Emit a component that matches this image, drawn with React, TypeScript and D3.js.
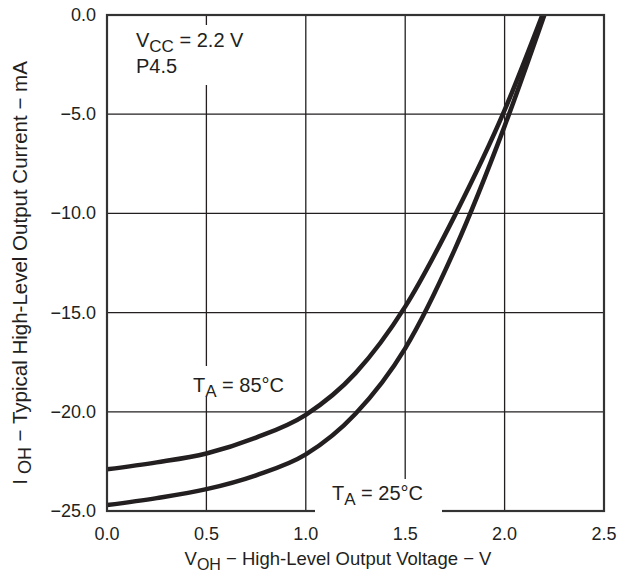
import * as React from 'react';
import * as d3 from 'd3';

// V_OH in volts, I_OH in mA
const voltage = [0, 0.25, 0.5, 0.75, 1.0, 1.25, 1.5, 1.75, 2.0];
const current85 = [-22.9, -22.55, -22.1, -21.3, -20.15, -18.05, -14.7, -10.1, -4.8];
const current25 = [-24.7, -24.35, -23.9, -23.2, -22.15, -20.1, -16.8, -11.8, -5.6];
// both curves reach 0 mA here
const endVoltage85 = 2.19;
const endVoltage25 = 2.2;

const xTicks = [0, 0.5, 1.0, 1.5, 2.0, 2.5];
const yTicks = [0, -5, -10, -15, -20, -25];

const W = 618;
const H = 576;
const margin = {left: 107, right: 14, top: 15, bottom: 65};
const font = 'Liberation Sans, Arial, sans-serif';
const ink = '#231f20';

export default function App() {
  const x = d3.scaleLinear().domain([0, 2.5]).range([margin.left, W - margin.right]);
  const y = d3.scaleLinear().domain([0, -25]).range([margin.top, H - margin.bottom]);

  const line = d3.line<[number, number]>()
    .x(d => x(d[0]))
    .y(d => y(d[1]))
    .curve(d3.curveMonotoneX);

  const s85 = voltage.map((v, i) => [v, current85[i]] as [number, number]).concat([[endVoltage85, 0]]);
  const s25 = voltage.map((v, i) => [v, current25[i]] as [number, number]).concat([[endVoltage25, 0]]);

  const [x0, x1] = x.range();
  const [y0, y1] = y.range();

  return (
    <svg width={W} height={H} style={{position: 'absolute', left: 0, top: 0, background: '#fff'}}
      fontFamily={font}>
      {/* grid */}
      {xTicks.slice(1, -1).map(t => (
        <line key={'gx' + t} x1={x(t)} x2={x(t)} y1={y0} y2={y1} stroke={ink} strokeWidth={1.3}/>
      ))}
      {yTicks.slice(1, -1).map(t => (
        <line key={'gy' + t} x1={x0} x2={x1} y1={y(t)} y2={y(t)} stroke={ink} strokeWidth={1.3}/>
      ))}

      {/* curves */}
      <path d={line(s85) || ''} fill="none" stroke={ink} strokeWidth={4.5}/>
      <path d={line(s25) || ''} fill="none" stroke={ink} strokeWidth={4.5}/>

      {/* frame */}
      <rect x={x0} y={y0} width={x1 - x0} height={y1 - y0} fill="none" stroke="#333" strokeWidth={2.2}/>

      {/* annotations with white backing */}
      <rect x={118} y={25} width={135} height={60} fill="#fff"/>
      <text x={136} y={47} fontSize={20} fill={ink}>
        V<tspan fontSize={17} dy={5}>CC</tspan><tspan dy={-5}> = 2.2 V</tspan>
      </text>
      <text x={136} y={73} fontSize={20} fill={ink}>P4.5</text>

      <rect x={186} y={366} width={108} height={31} fill="#fff"/>
      <text x={193} y={392} fontSize={20} fill={ink}>
        T<tspan fontSize={17} dy={5}>A</tspan><tspan dy={-5}> = 85°C</tspan>
      </text>

      <rect x={315} y={479} width={127} height={36} fill="#fff"/>
      <text x={332} y={500} fontSize={20} fill={ink}>
        T<tspan fontSize={17} dy={5}>A</tspan><tspan dy={-5}> = 25°C</tspan>
      </text>

      {/* tick labels */}
      {xTicks.map(t => (
        <text key={'tx' + t} x={x(t)} y={y1 + 29} fontSize={18} textAnchor="middle" fill={ink}>
          {d3.format('.1f')(t)}
        </text>
      ))}
      {yTicks.map(t => (
        <text key={'ty' + t} x={96} y={y(t) + 6} fontSize={18} textAnchor="end" fill={ink}>
          {d3.format('.1f')(t).replace('-', '\u2212')}
        </text>
      ))}

      {/* axis titles */}
      <text x={338} y={565} fontSize={18.5} textAnchor="middle" fill={ink}>
        V<tspan fontSize={16} dy={5}>OH</tspan><tspan dy={-5}> {'\u2212'} High-Level Output Voltage {'\u2212'} V</tspan>
      </text>
      <text transform={`translate(27,${(y0 + y1) / 2 + 10}) rotate(-90)`} fontSize={20.5}
        textAnchor="middle" fill={ink}>
        I<tspan fontSize={18} dy={4}> OH</tspan><tspan dy={-4}> {'\u2212'} Typical High-Level Output Current {'\u2212'} mA</tspan>
      </text>
    </svg>
  );
}
